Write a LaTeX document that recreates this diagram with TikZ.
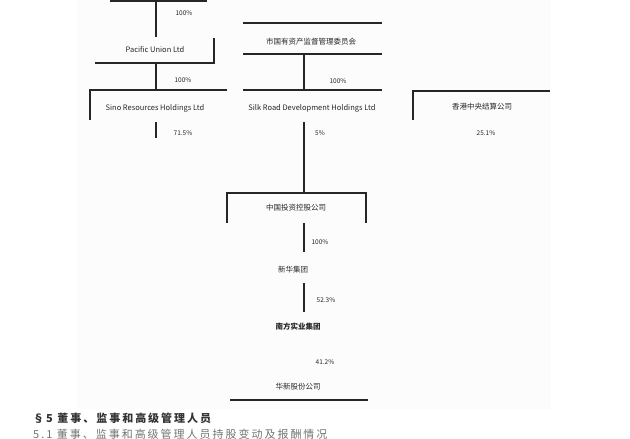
\documentclass[tikz,border=0pt]{standalone}
\usepackage{fontspec}
\setmainfont{Noto Sans CJK SC}

\begin{document}
\begin{tikzpicture}[x=1pt,y=-1pt,
    bar/.style={line width=1.3pt, black!85},
    lbl/.style={font=\fontsize{7.5}{8}\selectfont, text=black!85, inner sep=0pt},
    pct/.style={font=\fontsize{6.5}{7}\selectfont, text=black!85, inner sep=0pt},
    head/.style={anchor=west, inner sep=0pt,
      font=\fontsize{11}{12}\selectfont\addfontfeatures{LetterSpace=18}}]

    \useasboundingbox (0,0) rectangle (630,439);
    \fill[gray!2] (78,0) rectangle (551,409);

    % left column
    \coordinate (l0w) at (110,1);
    \coordinate (l0e) at (207,1);
    \coordinate (l0) at (156,1);
    \node[lbl] (l1) at (155,50) {Pacific Union Ltd};
    \coordinate (l1n) at (156,37);
    \coordinate (l1t) at (214,38);
    \coordinate (l1e) at (214,63);
    \coordinate (l1w) at (95,63);
    \coordinate (l1s) at (156,63);
    \coordinate (l2n) at (156,90);
    \coordinate (l2w) at (90,90);
    \coordinate (l2e) at (227,90);
    \coordinate (l2b) at (90,120);
    \node[lbl] (l2) at (155,108) {Sino Resources Holdings Ltd};
    \coordinate (l2s) at (156,122);
    \coordinate (l3) at (156,138);

    \node[pct] (p1) at (184,13) {100\%};
    \node[pct] (p2) at (183,80) {100\%};
    \node[pct] (p3) at (183,133) {71.5\%};

    % middle column
    \coordinate (m0w) at (243,23);
    \coordinate (m0e) at (382,23);
    \node[lbl] (m1) at (311,42) {市国有资产监督管理委员会};
    \coordinate (m1w) at (243,54);
    \coordinate (m1e) at (382,54);
    \coordinate (m1s) at (304,54);
    \coordinate (m2n) at (304,90);
    \coordinate (m2w) at (243,90);
    \coordinate (m2e) at (382,90);
    \node[lbl] (m2) at (312,108) {Silk Road Development Holdings Ltd};
    \coordinate (m2s) at (304,122);

    \node[pct] (p4) at (338,81) {100\%};
    \node[pct] (p5) at (320,133) {5\%};

    % right column
    \coordinate (r1w) at (413,91);
    \coordinate (r1e) at (550,91);
    \coordinate (r1b) at (413,120);
    \node[lbl] (r1) at (482,107) {香港中央结算公司};
    \node[pct] (p6) at (486,133) {25.1\%};

    % bottom chain
    \coordinate (b1n) at (304,193);
    \coordinate (b1w) at (227,193);
    \coordinate (b1e) at (366,193);
    \coordinate (b1sw) at (227,223);
    \coordinate (b1se) at (366,223);
    \node[lbl] (b1) at (296,208) {中国投资控股公司};
    \coordinate (b1s) at (304,223);
    \coordinate (b2n) at (304,252);
    \node[lbl] (b2) at (293,270) {新华集团};
    \coordinate (b2s) at (304,283);
    \coordinate (b3n) at (304,312);
    \node[lbl, font=\fontsize{7.5}{8}\selectfont\bfseries] (b3) at (298,327) {南方实业集团};
    \node[lbl] (b4) at (298,387) {华新股份公司};
    \coordinate (b4w) at (230,400);
    \coordinate (b4e) at (368,400);

    \node[pct] (p7) at (320,242) {100\%};
    \node[pct] (p8) at (326,300) {52.3\%};
    \node[pct] (p9) at (325,362) {41.2\%};

    % bars and links
    \draw[bar] (l0w) -- (l0e);
    \draw[bar] (l0) -- (l1n);
    \draw[bar] (l1t) -- (l1e) -- (l1w);
    \draw[bar] (l1s) -- (l2n);
    \draw[bar] (l2b) -- (l2w) -- (l2e);
    \draw[bar] (l2s) -- (l3);

    \draw[bar] (m0w) -- (m0e);
    \draw[bar] (m1w) -- (m1e);
    \draw[bar] (m1s) -- (m2n);
    \draw[bar] (m2w) -- (m2e);
    \draw[bar] (m2s) -- (b1n);

    \draw[bar] (r1b) -- (r1w) -- (r1e);

    \draw[bar] (b1sw) -- (b1w) -- (b1e) -- (b1se);
    \draw[bar] (b1s) -- (b2n);
    \draw[bar] (b2s) -- (b3n);
    \draw[bar] (b4w) -- (b4e);

    % section heading below
    \node[head, text=black!80,
      font=\fontsize{11}{12}\selectfont\bfseries\addfontfeatures{LetterSpace=18}] (h1) at (33,418) {§5 董事、监事和高级管理人员};
    \node[head, text=black!55] (h2) at (33,434) {5.1 董事、监事和高级管理人员持股变动及报酬情况};
\end{tikzpicture}
\end{document}
